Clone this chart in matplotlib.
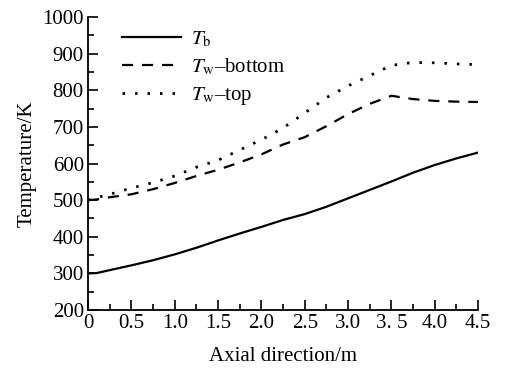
import matplotlib
matplotlib.use('Agg')
import matplotlib.pyplot as plt
from matplotlib.ticker import MultipleLocator, FixedLocator, FixedFormatter

# --- Data ---
axial_pos = [0, 0.1, 0.25, 0.5, 0.75, 1.0, 1.25, 1.5, 1.75, 2.0, 2.25,
             2.5, 2.75, 3.0, 3.25, 3.5, 3.75, 4.0, 4.25, 4.5]
t_bulk = [300, 301, 309, 322, 336, 352, 370, 390, 409, 427, 446,
          462, 482, 505, 528, 551, 575, 596, 614, 630]
t_wall_bottom = [500, 502, 508, 516, 530, 547, 566, 583, 603, 625, 652,
                 672, 702, 735, 763, 785, 776, 771, 769, 768]
t_wall_top = [500, 507, 516, 533, 548, 566, 590, 609, 637, 665, 697,
              738, 780, 812, 840, 868, 876, 875, 872, 870]

x_ticks = [0, 0.5, 1.0, 1.5, 2.0, 2.5, 3.0, 3.5, 4.0, 4.5]
x_tick_labels = ['0', '0.5', '1.0', '1.5', '2.0', '2.5', '3.0', '3. 5', '4.0', '4.5']
y_ticks = [200, 300, 400, 500, 600, 700, 800, 900, 1000]

# --- Style ---
plt.rcParams['font.family'] = ['Liberation Serif', 'DejaVu Serif']
plt.rcParams['mathtext.fontset'] = 'stix'

fig = plt.figure(figsize=(5.07, 3.70), dpi=100)
ax = fig.add_axes([0.1736, 0.162, 0.7694, 0.792])

ax.plot(axial_pos, t_bulk, color='black', linewidth=1.6, linestyle='-',
        label=r'$T_\mathrm{b}$')
ax.plot(axial_pos, t_wall_bottom, color='black', linewidth=1.6,
        linestyle=(0, (5, 4)), label=r'$T_\mathrm{w}$–bottom')
ax.plot(axial_pos, t_wall_top, color='black', linewidth=2.0,
        linestyle=(0, (0.9, 3.6)), label=r'$T_\mathrm{w}$–top')

ax.set_xlim(0, 4.5)
ax.set_ylim(200, 1000)

ax.xaxis.set_major_locator(FixedLocator(x_ticks))
ax.xaxis.set_major_formatter(FixedFormatter(x_tick_labels))
ax.xaxis.set_minor_locator(MultipleLocator(0.25))
ax.yaxis.set_major_locator(FixedLocator(y_ticks))
ax.yaxis.set_minor_locator(MultipleLocator(50))

for side in ['top', 'right']:
    ax.spines[side].set_visible(False)
for side in ['left', 'bottom']:
    ax.spines[side].set_linewidth(1.3)

ax.tick_params(which='major', direction='in', length=7, width=1.2,
               labelsize=15, pad=3)
ax.tick_params(which='minor', direction='in', length=4.5, width=1.2)

ax.set_xlabel('Axial direction/m', fontsize=15, labelpad=10)
ax.set_ylabel('Temperature/K', fontsize=15, labelpad=4)

ax.legend(loc='upper left', bbox_to_anchor=(0.04, 1.02), frameon=False,
          fontsize=15, handlelength=2.8, labelspacing=0.35, handletextpad=0.5)

fig.savefig('out.png', dpi=100)
plt.close(fig)
